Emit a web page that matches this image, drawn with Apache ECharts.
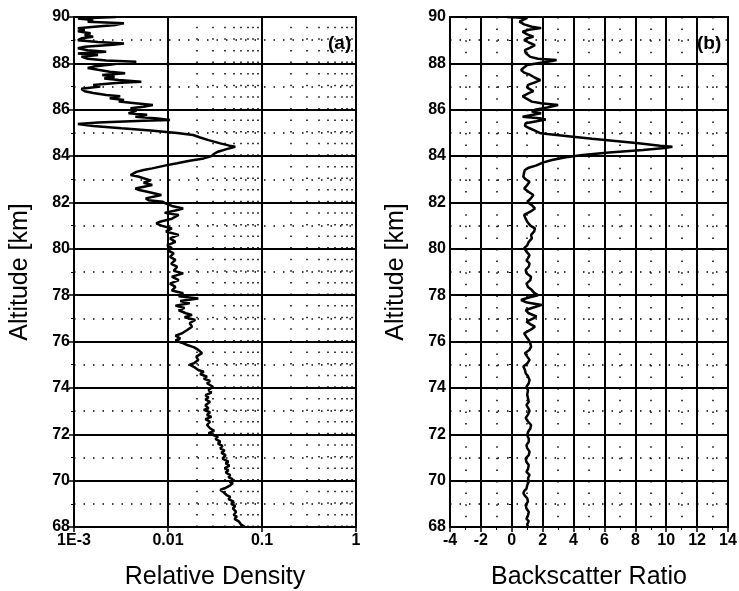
<!DOCTYPE html>
<html lang="en">
<head>
<meta charset="UTF-8">
<title>Density / backscatter profiles</title>
<script src="https://cdn.jsdelivr.net/npm/echarts@6/dist/echarts.min.js"></script>
<style>html,body{margin:0;padding:0;background:#fff;}</style>
</head>
<body>
<div id="main" style="width:739px;height:591px;"></div>
<script>
// (a) relative density profile, altitude in km
const densAlt = [68.00,68.10,68.23,68.35,68.45,68.52,68.65,68.80,68.90,69.00,69.09,69.20,69.30,69.38,69.50,69.60,69.67,69.80,69.90,69.95,
  70.05,70.15,70.24,70.35,70.45,70.53,70.65,70.75,70.82,70.95,71.10,71.20,71.30,71.39,71.50,71.60,71.68,71.80,71.90,71.97,
  72.05,72.15,72.26,72.40,72.54,72.65,72.75,72.83,72.95,73.05,73.12,73.25,73.40,73.50,73.60,73.69,73.80,73.91,74.05,74.20,
  74.30,74.40,74.48,74.60,74.70,74.77,74.90,75.00,75.07,75.20,75.35,75.50,75.64,75.75,75.85,75.95,76.05,76.14,76.25,76.35,
  76.50,76.64,76.80,76.93,77.05,77.15,77.22,77.35,77.45,77.55,77.65,77.75,77.86,77.95,78.08,78.20,78.36,78.50,78.65,78.80,
  78.94,79.05,79.23,79.35,79.52,79.65,79.80,79.92,80.03,80.15,80.30,80.45,80.60,80.75,80.88,81.00,81.10,81.17,81.30,81.46,
  81.55,81.65,81.74,81.85,81.95,82.03,82.10,82.17,82.25,82.32,82.45,82.55,82.60,82.75,82.85,82.95,83.03,83.12,83.18,83.25,
  83.32,83.40,83.47,83.60,83.69,83.80,83.90,84.00,84.10,84.19,84.30,84.40,84.45,84.55,84.69,84.80,84.91,85.00,85.10,85.20,
  85.30,85.38,85.45,85.52,85.56,85.62,85.70,85.78,85.85,85.95,86.06,86.13,86.20,86.28,86.35,86.42,86.50,86.58,86.64,86.72,
  86.80,86.90,87.00,87.07,87.15,87.21,87.28,87.35,87.42,87.50,87.57,87.64,87.72,87.80,87.86,87.95,88.02,88.07,88.12,88.20,
  88.29,88.36,88.43,88.50,88.57,88.65,88.72,88.80,88.86,88.92,89.00,89.08,89.15,89.22,89.30,89.38,89.45,89.51,89.60,89.66,
  89.73,89.80,89.87,89.93,90.00];
const densVal = [0.066,0.060,0.057,0.051,0.054,0.050,0.053,0.049,0.052,0.047,0.050,0.044,0.046,0.042,0.039,0.036,0.040,0.046,0.049,0.045,
  0.049,0.044,0.046,0.041,0.044,0.040,0.045,0.041,0.044,0.038,0.041,0.037,0.040,0.036,0.038,0.034,0.036,0.032,0.034,0.030,
  0.027,0.031,0.028,0.026,0.028,0.025,0.029,0.026,0.028,0.024,0.027,0.025,0.028,0.025,0.027,0.025,0.029,0.027,0.030,0.026,
  0.028,0.024,0.026,0.022,0.024,0.021,0.019,0.017,0.019,0.021,0.020,0.023,0.021,0.019,0.016,0.014,0.012,0.0135,0.012,0.014,
  0.016,0.018,0.017,0.0195,0.015,0.018,0.0155,0.013,0.015,0.012,0.017,0.0135,0.021,0.013,0.0145,0.011,0.012,0.0105,0.013,0.011,
  0.0145,0.0115,0.0125,0.0108,0.012,0.0105,0.0115,0.010,0.011,0.0098,0.012,0.0105,0.013,0.0095,0.011,0.0085,0.0075,0.0082,0.011,0.013,
  0.0092,0.012,0.0145,0.011,0.0095,0.0088,0.0062,0.0058,0.0070,0.0085,0.0062,0.0048,0.0045,0.0068,0.0055,0.0065,0.0062,0.0048,0.0040,0.0042,
  0.0046,0.0055,0.0068,0.0095,0.0125,0.017,0.024,0.029,0.031,0.034,0.042,0.052,0.045,0.036,0.027,0.022,0.0185,0.0125,0.0065,0.0032,
  0.0016,0.0011,0.0018,0.0055,0.0105,0.0078,0.0045,0.0060,0.0038,0.0046,0.0040,0.0055,0.0069,0.0045,0.0030,0.0034,0.0024,0.0031,0.0022,0.0016,
  0.0013,0.0012,0.0019,0.0016,0.0028,0.0052,0.0030,0.0021,0.0027,0.0020,0.0035,0.0024,0.0018,0.0014,0.0016,0.0025,0.0032,0.0046,0.0022,0.0014,
  0.0012,0.0018,0.0011,0.0022,0.0014,0.0011,0.0013,0.0026,0.0034,0.0018,0.0011,0.0012,0.0016,0.0013,0.0015,0.0011,0.0013,0.0011,0.0019,0.0028,
  0.0034,0.0014,0.0016,0.0011,0.0028];

// (b) backscatter ratio profile
const bsAlt = [68.00,68.12,68.25,68.35,68.50,68.65,68.80,68.95,69.10,69.24,69.35,69.45,69.55,69.65,69.80,69.95,70.10,70.25,70.38,70.50,
  70.67,70.80,70.96,71.10,71.25,71.40,71.53,71.68,71.82,71.95,72.10,72.25,72.40,72.55,72.70,72.85,73.00,73.15,73.26,73.40,
  73.55,73.70,73.91,74.05,74.20,74.34,74.50,74.63,74.78,74.92,75.05,75.21,75.35,75.50,75.65,75.78,75.92,76.07,76.20,76.35,
  76.50,76.64,76.75,76.86,77.00,77.08,77.22,77.36,77.47,77.58,77.68,77.79,77.90,78.00,78.10,78.22,78.35,78.50,78.65,78.80,
  78.95,79.09,79.23,79.37,79.50,79.60,79.73,79.88,80.03,80.15,80.30,80.45,80.60,80.75,80.88,81.00,81.17,81.30,81.46,81.60,
  81.74,81.88,82.03,82.15,82.32,82.45,82.60,82.75,82.89,83.00,83.10,83.18,83.30,83.40,83.50,83.60,83.72,83.83,83.95,84.05,
  84.15,84.26,84.35,84.40,84.45,84.55,84.62,84.75,84.85,84.95,85.00,85.10,85.20,85.30,85.42,85.50,85.58,85.63,85.70,85.78,
  85.85,85.92,86.00,86.10,86.20,86.28,86.35,86.42,86.50,86.58,86.64,86.72,86.80,86.85,86.95,87.07,87.18,87.28,87.38,87.50,
  87.60,87.71,87.80,87.93,88.02,88.10,88.14,88.20,88.28,88.35,88.45,88.57,88.68,88.79,88.90,89.00,89.08,89.15,89.25,89.37,
  89.45,89.52,89.58,89.68,89.80,89.90,89.96,90.00];
const bsVal = [1.05,1.0,1.1,0.95,1.05,1.1,0.95,0.9,1.05,1.0,0.85,0.75,0.8,0.95,1.0,1.1,1.05,1.15,0.95,1.05,
  1.1,0.95,0.9,1.1,1.15,1.0,0.95,1.1,1.1,1.0,1.05,1.2,1.25,1.05,0.9,1.05,1.15,1.05,0.95,1.1,
  1.05,1.0,1.05,0.95,1.1,1.15,1.05,0.9,0.85,0.75,1.0,1.15,1.0,0.85,1.15,1.25,1.2,1.1,0.95,0.8,
  1.2,1.5,1.2,0.95,1.4,1.6,1.1,0.9,1.4,1.95,1.0,0.6,1.1,1.7,1.45,1.3,1.05,0.95,1.2,1.25,
  0.95,0.9,1.1,1.15,0.95,1.05,1.15,0.95,0.8,1.0,1.1,1.3,1.25,1.45,1.5,1.2,1.0,0.9,0.8,1.2,
  1.5,1.3,1.0,1.2,1.4,1.1,0.8,1.0,1.15,0.9,0.75,0.7,0.8,0.85,1.1,1.6,2.0,2.6,3.5,4.6,
  6.3,8.5,9.9,10.4,9.6,8.2,7.2,5.2,3.8,2.3,1.8,1.5,1.15,0.85,0.9,1.6,2.2,1.8,0.7,0.75,
  1.9,1.3,1.5,2.3,3.0,1.9,1.3,1.2,0.9,0.7,0.75,1.1,1.4,1.3,1.0,1.05,1.5,1.85,1.5,1.2,
  0.8,0.6,0.75,1.0,1.8,2.6,2.9,1.7,1.2,1.15,0.9,0.85,1.2,1.5,1.1,0.8,1.0,1.4,1.0,0.7,
  1.1,1.9,1.3,0.8,0.5,0.8,1.0,-0.3];

const densTickLabels = ['1E-3', '0.01', '0.1', '1'];
// log minor grid positions 2..9 per decade
const densMinor = [];
[0.001, 0.01, 0.1].forEach(d => { for (let k = 2; k <= 9; k++) densMinor.push(+(k * d).toPrecision(3)); });

const font = 'Liberation Sans, Arial, sans-serif';
const black = '#000';
const tickLabel = { color: black, fontFamily: font, fontSize: 16, fontWeight: 'bold' };
const axisName = { color: black, fontFamily: font, fontSize: 25 };
const majorLine = { show: true, lineStyle: { color: black, width: 2 } };

function yAxis(gridIndex) {
  return {
    type: 'value', gridIndex: gridIndex, min: 68, max: 90, interval: 2,
    name: 'Altitude [km]', nameLocation: 'middle', nameGap: 41, nameTextStyle: axisName,
    axisLine: { lineStyle: { color: black, width: 2 } },
    axisTick: { length: 5, lineStyle: { color: black, width: 1.5 } },
    minorTick: { show: true, splitNumber: 2, length: 3, lineStyle: { color: black } },
    minorSplitLine: { show: true, lineStyle: { color: black, width: 1.5, type: [1.5, 8] } },
    axisLabel: Object.assign({ margin: 4 }, tickLabel),
    splitLine: majorLine
  };
}

var myChart = echarts.init(document.getElementById('main'));
let option = {
  animation: false,
  backgroundColor: '#fff',
  title: [
    { text: '(a)', left: 323, top: 29, textStyle: { fontFamily: font, fontSize: 19, fontWeight: 'bold', color: black } },
    { text: '(b)', left: 692, top: 29, textStyle: { fontFamily: font, fontSize: 19, fontWeight: 'bold', color: black } }
  ],
  // fixed plot boxes, no auto-shrink for the big axis names
  grid: [
    { left: 74, top: 17, width: 282, height: 510, outerBoundsMode: 'none', show: true, borderColor: black, borderWidth: 2 },
    { left: 450, top: 17, width: 278, height: 510, outerBoundsMode: 'none', show: true, borderColor: black, borderWidth: 2 }
  ],
  xAxis: [
    {
      type: 'log', logBase: 10, gridIndex: 0, min: 0.001, max: 1,
      name: 'Relative Density', nameLocation: 'middle', nameGap: 38, nameTextStyle: axisName,
      axisLine: { lineStyle: { color: black, width: 2 } },
      axisTick: { length: 5, lineStyle: { color: black, width: 1.5 } },
      axisLabel: Object.assign({
        margin: 6,
        formatter: v => densTickLabels[Math.round(Math.log10(v)) + 3]
      }, tickLabel),
      splitLine: majorLine
    },
    {
      type: 'value', gridIndex: 1, min: -4, max: 14, interval: 2,
      name: 'Backscatter Ratio', nameLocation: 'middle', nameGap: 38, nameTextStyle: axisName,
      axisLine: { lineStyle: { color: black, width: 2 } },
      axisTick: { length: 5, lineStyle: { color: black, width: 1.5 } },
      minorTick: { show: true, splitNumber: 2, length: 3, lineStyle: { color: black } },
      minorSplitLine: { show: true, lineStyle: { color: black, width: 1.5, type: [1.5, 10.1] } },
      axisLabel: Object.assign({ margin: 6 }, tickLabel),
      splitLine: majorLine
    }
  ],
  yAxis: [yAxis(0), yAxis(1)],
  series: [
    {
      name: 'Relative Density', type: 'line', xAxisIndex: 0, yAxisIndex: 0,
      data: densAlt.map((a, i) => [densVal[i], a]),
      showSymbol: false, z: 5,
      lineStyle: { color: black, width: 2.5 },
      markLine: {
        silent: true, symbol: ['none', 'none'], label: { show: false },
        lineStyle: { color: black, width: 1.5, type: [1.5, 10.1] },
        data: densMinor.map(v => ({ xAxis: v }))
      }
    },
    {
      name: 'Backscatter Ratio', type: 'line', xAxisIndex: 1, yAxisIndex: 1,
      data: bsAlt.map((a, i) => [bsVal[i], a]),
      showSymbol: false, z: 5,
      lineStyle: { color: black, width: 2.5 }
    }
  ]
};
myChart.setOption(option);
</script>
</body>
</html>
